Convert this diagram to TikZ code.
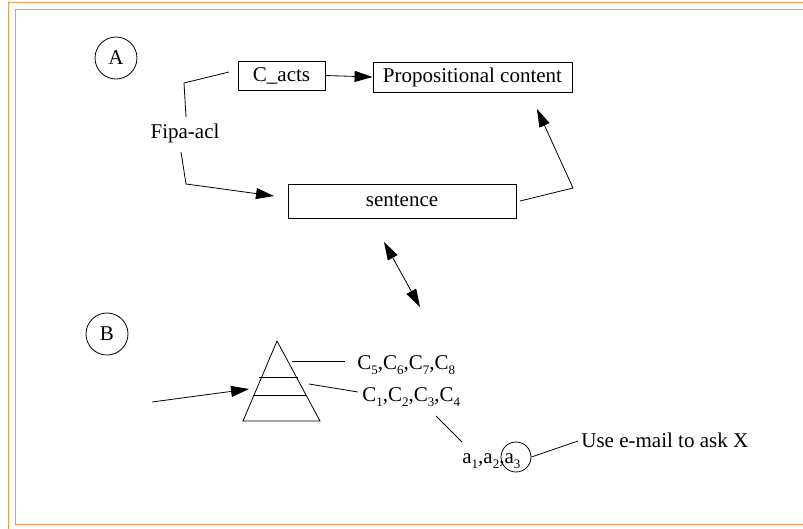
\documentclass[tikz,border=0pt]{standalone}
\usepackage{fontspec}
\setmainfont{Liberation Serif}
\usetikzlibrary{arrows.meta}
\definecolor{frameorange}{RGB}{247,150,90}
\newcommand{\sbs}[1]{\raisebox{-5pt}{\fontsize{13}{13}\selectfont #1}}
\begin{document}
\begin{tikzpicture}[x=1pt,y=-1pt,line width=0.8pt,
  lbl/.style={font=\fontsize{21}{24}\selectfont,inner sep=0pt},
  boxnode/.style={draw,lbl},
  letter/.style={draw,circle,lbl,minimum size=42pt},
  arr/.style={-{Triangle[length=18pt,width=11pt]}},
  darr/.style={{Triangle[length=18pt,width=11pt]}-{Triangle[length=18pt,width=11pt]}},
  frame/.style={draw=frameorange,line width=1pt}]
\useasboundingbox (0,0) rectangle (803,528);
% orange frames
\draw[frame] (8,530) -- (8,2.5) -- (806,2.5);
\draw[frame] (806,9.5) -- (15,9.5) -- (15,524) -- (806,524);
% section A
\node[letter] (A) at (116,58) {A};
\node[boxnode,minimum width=87pt,minimum height=29pt] (cacts) at (281.5,75.5) {C\_acts};
\node[boxnode,minimum width=199pt,minimum height=30pt] (prop) at (472.5,77) {Propositional content};
\node[boxnode,minimum width=228pt,minimum height=34pt] (sent) at (402,201) {sentence};
\node[lbl] (fipa) at (185,133) {Fipa-acl};
\draw[arr] (cacts.east) -- (prop.west);
\coordinate (f1) at (186,117);
\coordinate (f1b) at (184,83);
\coordinate (f1e) at (229,72);
\draw (f1) -- (f1b) -- (f1e);
\coordinate (f2) at (181,152);
\coordinate (f2b) at (186,184);
\coordinate (f2e) at (274,196);
\draw[arr] (f2) -- (f2b) -- (f2e);
\coordinate (s1) at (520,201);
\coordinate (s1b) at (573,188);
\coordinate (s1e) at (537,109);
\draw[arr] (s1) -- (s1b) -- (s1e);
% link A-B
\coordinate (d1) at (384,242);
\coordinate (d2) at (420,307);
\draw[darr] (d1) -- (d2);
% section B
\node[letter] (B) at (107,334) {B};
\coordinate (apex) at (277,341);
\coordinate (bl) at (243,421);
\coordinate (br) at (320,421);
\draw (apex) -- (br) -- (bl) -- cycle;
\draw (259,377) -- (298,377);
\draw (253,395) -- (306,395);
\coordinate (in1) at (152,402);
\coordinate (in2) at (249,389);
\draw[arr] (in1) -- (in2);
\node[lbl,anchor=base west] (c5) at (357,369) {C\sbs{5},C\sbs{6},C\sbs{7},C\sbs{8}};
\node[lbl,anchor=base west] (c1) at (362,401) {C\sbs{1},C\sbs{2},C\sbs{3},C\sbs{4}};
\node[lbl,anchor=base west] (a1) at (462,463) {a\sbs{1},a\sbs{2},a\sbs{3}};
\node[lbl,anchor=base west] (use) at (581,447) {Use e-mail to ask X};
\node[draw,circle,minimum size=30pt,inner sep=0pt] (ring) at (516,457) {};
\coordinate (t1) at (292,361);
\coordinate (t1e) at (345,361);
\draw (t1) -- (t1e);
\coordinate (t2) at (309,384);
\coordinate (t2e) at (358,392);
\draw (t2) -- (t2e);
\coordinate (u1) at (436,416);
\coordinate (u2) at (462,442);
\draw (u1) -- (u2);
\coordinate (r2) at (578,441);
\draw (ring.east) -- (r2);
\end{tikzpicture}
\end{document}
